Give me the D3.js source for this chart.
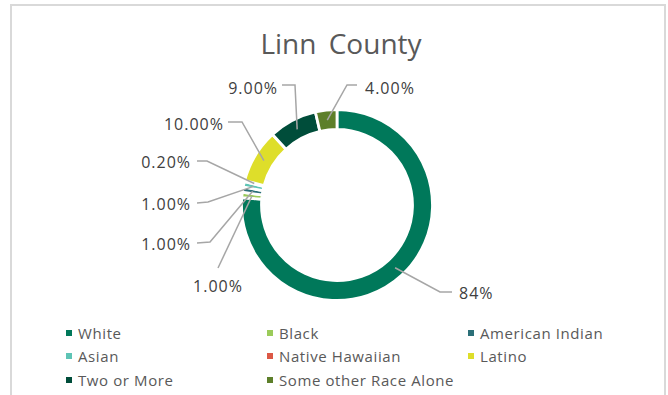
<!DOCTYPE html>
<html><head><meta charset="utf-8">
<script src="https://cdn.jsdelivr.net/npm/d3@7"></script>
<style>
html,body{margin:0;padding:0;background:#fff;}
svg{display:block;font-family:"Open Sans",sans-serif;}
</style></head>
<body>
<svg id="c" width="668" height="395"></svg>
<script>
const title = "Linn County";
const categories = ["White","Black","American Indian","Asian","Native Hawaiian","Latino","Two or More","Some other Race Alone"];
const values = [84, 1, 1, 1, 0.2, 10, 9, 4];
const valueLabels = ["84%","1.00%","1.00%","1.00%","0.20%","10.00%","9.00%","4.00%"];
const colors = ["#00785A","#9BCB5A","#2B6F78","#5EC4B5","#DC5846","#DEDE2A","#004D3A","#5D7F2A"];

// label layout (offsets relative to donut centre): text anchor point, elbow, anchor type
const labelLayout = [
  {tx:122, ty:88,  anchor:"start", elbow:[103,87], end:[115,87]},
  {tx:-119,ty:81,  anchor:"middle", elbow:null, end:[-119,63]},
  {tx:-146,ty:39,  anchor:"end", elbow:[-127,37], end:[-140,38]},
  {tx:-146,ty:-1,  anchor:"end", elbow:[-129,-3], end:[-140,-2]},
  {tx:-146,ty:-43, anchor:"end", elbow:[-130,-44], end:[-140,-44]},
  {tx:-113,ty:-81, anchor:"end", elbow:[-95,-83], end:[-109,-83]},
  {tx:-59, ty:-117,anchor:"end", elbow:[-42,-120], end:[-55,-120]},
  {tx:28,  ty:-117,anchor:"start", elbow:[10,-120], end:[20,-120]}
];

const svg = d3.select("#c");
svg.append("rect").attr("x",11).attr("y",5).attr("width",654).attr("height",400)
  .attr("fill","#fff").attr("stroke","#D9D9D9").attr("stroke-width",2);

svg.append("text").attr("x",341).attr("y",54).attr("text-anchor","middle")
  .attr("font-size",28).attr("word-spacing",5).attr("fill","#595959").text(title);

const cx = 337, cy = 205, rOuter = 95.5, rInner = 75.5;
const g = svg.append("g").attr("transform",`translate(${cx},${cy})`);
const pie = d3.pie().sort(null).value(d=>d)(values);
const arc = d3.arc().innerRadius(rInner).outerRadius(rOuter);
g.selectAll("path.s").data(pie).join("path").attr("class","s")
  .attr("d",arc).attr("fill",(d,i)=>colors[i])
  .attr("stroke","#fff").attr("stroke-width",2.8).attr("stroke-linejoin","miter");

const rMid = (rInner+rOuter)/2;
pie.forEach((d,i)=>{
  const a = (d.startAngle+d.endAngle)/2;
  const p = [rMid*Math.sin(a), -rMid*Math.cos(a)];
  const L = labelLayout[i];
  const pts = [p];
  if (L.elbow) pts.push(L.elbow);
  pts.push(L.end);
  g.append("path").attr("d", d3.line()(pts)).attr("fill","none")
    .attr("stroke","#A6A6A6").attr("stroke-width",1.5);
  g.append("text").attr("x",L.tx).attr("y",L.ty).attr("text-anchor",L.anchor)
    .attr("font-size",16).attr("letter-spacing",1).attr("fill","#404040")
    .attr("dominant-baseline","central")
    .text(valueLabels[i]);
});

// legend
const legX = [66, 267, 468], legY = [333, 356, 380];
const lg = svg.append("g");
categories.forEach((c,i)=>{
  const col = i%3, row = Math.floor(i/3);
  const x = legX[col], y = legY[row];
  lg.append("rect").attr("x",x).attr("y",y-3).attr("width",6).attr("height",6).attr("fill",colors[i]);
  lg.append("text").attr("x",x+12).attr("y",y).attr("dominant-baseline","central")
    .attr("font-size",15).attr("letter-spacing",0.6).attr("fill","#595959").text(c);
});
</script>
</body></html>
